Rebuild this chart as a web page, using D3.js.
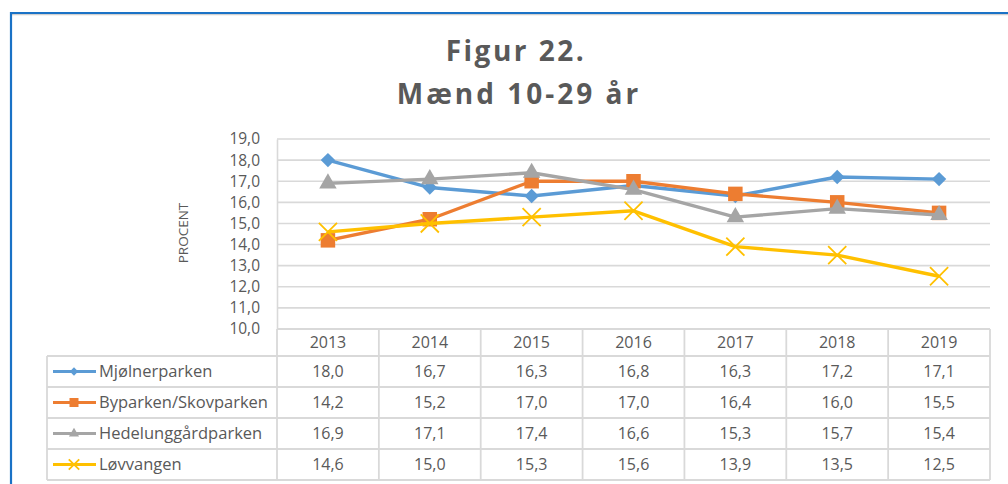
<!DOCTYPE html>
<html>
<head>
<meta charset="utf-8">
<script src="https://cdn.jsdelivr.net/npm/d3@7"></script>
<style>
  body { margin: 0; background: #fff; }
  text { font-family: "Open Sans", "Liberation Sans", sans-serif; fill: #595959; }
</style>
</head>
<body>
<div id="chart"></div>
<script>
// data
let years = ["2013", "2014", "2015", "2016", "2017", "2018", "2019"];
let seriesNames = ["Mjølnerparken", "Byparken/Skovparken", "Hedelunggårdparken", "Løvvangen"];
let mjolner = [18.0, 16.7, 16.3, 16.8, 16.3, 17.2, 17.1];
let byparken = [14.2, 15.2, 17.0, 17.0, 16.4, 16.0, 15.5];
let hedelung = [16.9, 17.1, 17.4, 16.6, 15.3, 15.7, 15.4];
let lovvangen = [14.6, 15.0, 15.3, 15.6, 13.9, 13.5, 12.5];
let yTicks = [10, 11, 12, 13, 14, 15, 16, 17, 18, 19];

let colors = ["#5B9BD5", "#ED7D31", "#A5A5A5", "#FFC000"];
let markers = ["diamond", "square", "triangle", "cross"];
let series = [mjolner, byparken, hedelung, lovvangen].map(function (v, i) {
  return {name: seriesNames[i], values: v, color: colors[i], marker: markers[i]};
});

let width = 1008, height = 484;
let svg = d3.select("#chart").append("svg")
  .attr("width", width)
  .attr("height", height);

// frame
svg.append("line").attr("x1", 10).attr("x2", 1008).attr("y1", 14.5).attr("y2", 14.5)
  .attr("stroke", "#d0d0d0").attr("stroke-width", 1.5);
svg.append("line").attr("x1", 10).attr("x2", 1008).attr("y1", 13).attr("y2", 13)
  .attr("stroke", "#1a72c6").attr("stroke-width", 2.2);
svg.append("line").attr("x1", 11).attr("x2", 11).attr("y1", 12).attr("y2", 484)
  .attr("stroke", "#1a72c6").attr("stroke-width", 2.2);

// title
svg.append("text").attr("x", 516).attr("y", 61)
  .attr("text-anchor", "middle")
  .style("font-size", "28px").style("font-weight", "bold").style("letter-spacing", "2.5px")
  .text("Figur 22.");
svg.append("text").attr("x", 519).attr("y", 104)
  .attr("text-anchor", "middle")
  .style("font-size", "28px").style("font-weight", "bold").style("letter-spacing", "3px")
  .text("Mænd 10-29 år");

// scales
let plotLeft = 277, plotRight = 990, plotTop = 139, plotBottom = 329;
let x = d3.scaleBand().domain(years).range([plotLeft, plotRight]);
let y = d3.scaleLinear().domain([10, 19]).range([plotBottom, plotTop]);
let fmt = function (d) { return d3.format(".1f")(d).replace(".", ","); };

// gridlines
svg.append("g")
  .selectAll("line")
  .data(yTicks)
  .enter()
  .append("line")
    .attr("x1", plotLeft).attr("x2", plotRight)
    .attr("y1", function (d) { return y(d); })
    .attr("y2", function (d) { return y(d); })
    .attr("stroke", "#d9d9d9").attr("stroke-width", 1.6);

// y axis
let yAxis = svg.append("g")
  .attr("transform", "translate(" + plotLeft + ",0)")
  .call(d3.axisLeft(y).tickValues(yTicks).tickFormat(fmt).tickSize(0).tickPadding(17));
yAxis.select(".domain").attr("stroke", "#d9d9d9").attr("stroke-width", 1.6);
yAxis.selectAll("text").style("font-size", "15.5px").style("font-family", "'Open Sans', sans-serif").attr("fill", "#595959");

svg.append("text")
  .attr("transform", "translate(188,233) rotate(-90)")
  .attr("text-anchor", "middle")
  .style("font-size", "13.5px")
  .text("PROCENT");

// data table
let tableLeft = 47;
let headTop = 329, headH = 27, rowH = 31;
let rowY = function (i) { return headTop + headH + i * rowH; };
let bounds = years.map(function (d) { return x(d); }).concat([plotRight]);
let grid = svg.append("g").attr("stroke", "#d9d9d9").attr("stroke-width", 1.8);

// horizontal table lines
grid.append("line").attr("x1", plotLeft).attr("x2", plotRight).attr("y1", headTop).attr("y2", headTop);
for (let i = 0; i <= series.length; i++) {
  grid.append("line").attr("x1", tableLeft).attr("x2", plotRight)
    .attr("y1", rowY(i)).attr("y2", rowY(i));
}
// vertical table lines
bounds.forEach(function (bx) {
  grid.append("line").attr("x1", bx).attr("x2", bx).attr("y1", headTop).attr("y2", rowY(series.length));
});
grid.append("line").attr("x1", tableLeft).attr("x2", tableLeft).attr("y1", rowY(0)).attr("y2", rowY(series.length));

// header years
svg.append("g")
  .selectAll("text")
  .data(years)
  .enter()
  .append("text")
    .attr("x", function (d) { return x(d) + x.bandwidth() / 2; })
    .attr("y", headTop + headH / 2 + 5.5)
    .attr("text-anchor", "middle")
    .style("font-size", "16px")
    .text(function (d) { return d; });

function markerPath(type, s) {
  if (type === "diamond") return d3.symbol(d3.symbolDiamond2, s * s * 0.55)();
  if (type === "square") return d3.symbol(d3.symbolSquare, s * s)();
  if (type === "triangle") return d3.symbol(d3.symbolTriangle, s * s * 0.55)();
  return d3.symbol(d3.symbolTimes, s * s * 0.9)();
}

function drawMarker(g, type, color, s) {
  let p = g.append("path").attr("d", markerPath(type, s));
  if (type === "cross") {
    p.attr("fill", "none").attr("stroke", color).attr("stroke-width", 1.8);
  } else {
    p.attr("fill", color);
  }
  return p;
}

// rows: legend keys, names and values
series.forEach(function (s, i) {
  let cy = rowY(i) + rowH / 2;
  svg.append("line").attr("x1", 53).attr("x2", 96).attr("y1", cy).attr("y2", cy)
    .attr("stroke", s.color).attr("stroke-width", 3);
  let mk = svg.append("g").attr("transform", "translate(74," + cy + ")");
  drawMarker(mk, s.marker, s.color, 9);
  svg.append("text").attr("x", 99).attr("y", cy + 5.5)
    .style("font-size", "16.5px")
    .text(s.name);
  svg.append("g")
    .selectAll("text")
    .data(s.values)
    .enter()
    .append("text")
      .attr("x", function (d, j) { return x(years[j]) + x.bandwidth() / 2; })
      .attr("y", cy + 5.5)
      .attr("text-anchor", "middle")
      .style("font-size", "16px")
      .text(function (d) { return fmt(d); });
});

// lines and markers
let line = d3.line()
  .x(function (d, j) { return x(years[j]) + x.bandwidth() / 2; })
  .y(function (d) { return y(d); });

series.forEach(function (s) {
  svg.append("path")
    .datum(s.values)
    .attr("d", line)
    .attr("fill", "none")
    .attr("stroke", s.color)
    .attr("stroke-width", 3.4)
    .attr("stroke-linejoin", "round");
  s.values.forEach(function (v, j) {
    let g = svg.append("g")
      .attr("transform", "translate(" + (x(years[j]) + x.bandwidth() / 2) + "," + y(v) + ")");
    drawMarker(g, s.marker, s.color, s.marker === "square" ? 14.5 : 15.5);
  });
});
</script>
</body>
</html>
